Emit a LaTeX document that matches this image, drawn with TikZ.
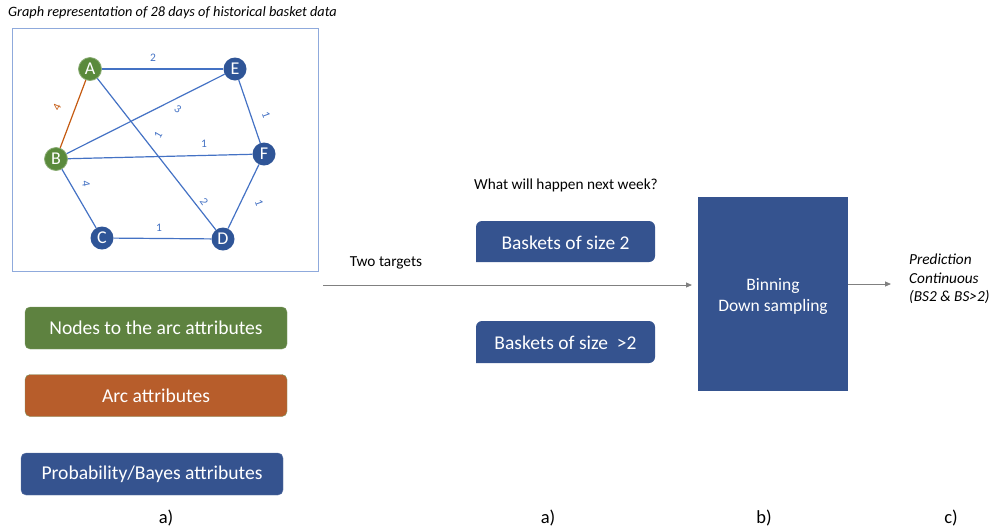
\documentclass[tikz,border=0pt]{standalone}
\usepackage{fontspec}
\setmainfont{Carlito}
\usetikzlibrary{arrows.meta}
\definecolor{gnode}{HTML}{5A8A3C}
\definecolor{bnode}{HTML}{2F5597}
\definecolor{edgeb}{HTML}{4472C4}
\definecolor{edgeo}{HTML}{C55A11}
\definecolor{bxgreen}{HTML}{5E8240}
\definecolor{bxorange}{HTML}{B75D2B}
\definecolor{bxblue}{HTML}{35538F}
\definecolor{frame}{HTML}{8FAADC}
\definecolor{arrowg}{HTML}{808080}
\tikzset{
  gv/.style={circle,fill=gnode,draw=gnode!70!white,line width=0.8pt,minimum size=23pt,inner sep=0pt,text=white,font=\fontsize{18}{18}\selectfont},
  bv/.style={circle,fill=bnode,minimum size=23pt,inner sep=0pt,text=white,font=\fontsize{18}{18}\selectfont},
  ed/.style={draw=edgeb,line width=1.2pt},
  elab/.style={text=edgeb,font=\fontsize{11.5}{11.5}\selectfont,inner sep=1pt},
  attbox/.style={rounded corners=5pt,minimum width=262pt,minimum height=42pt,text=white,font=\fontsize{19.6}{19.6}\selectfont,inner sep=0pt},
  flowarrow/.style={draw=arrowg,line width=0.9pt,-{Triangle[length=6pt,width=5pt]}},
  sublabel/.style={font=\fontsize{18.5}{18.5}\selectfont},
  smalltext/.style={font=\fontsize{15.3}{15.3}\selectfont}
}
\begin{document}
\begin{tikzpicture}[x=1pt,y=-1pt]
\useasboundingbox (0,0) rectangle (992,531);
% title
\node[anchor=west,font=\fontsize{14.3}{14.3}\selectfont\itshape,inner sep=0pt] (title) at (8,13) {Graph representation of 28 days of historical basket data};
% frame
\node[draw=frame,line width=0.9pt,minimum width=306pt,minimum height=243pt,inner sep=0pt] (frame) at (165,149.5) {};
% vertices
\node[gv] (A) at (90,69) {A};
\node[bv] (E) at (235,69) {E};
\node[gv] (B) at (56,159) {B};
\node[bv] (F) at (264,154) {F};
\node[bv] (C) at (102,238) {C};
\node[bv] (D) at (223,239) {D};
\draw[ed] (A) -- (E);
\draw[ed] (A) -- (D);
\draw[ed] (B) -- (E);
\draw[ed] (B) -- (F);
\draw[ed] (B) -- (C);
\draw[ed] (C) -- (D);
\draw[ed] (D) -- (F);
\draw[ed] (E) -- (F);
\draw[draw=edgeo,line width=1.2pt] (A) -- (B);
% edge labels
\node[elab] (lAE) at (153,58) {2};
\node[elab,text=edgeo,rotate=65] (lAB) at (57,107) {4};
\node[elab,rotate=-35] (lBE) at (178,109) {3};
\node[elab,rotate=60] (lAD1) at (158,135) {1};
\node[elab] (lBF) at (204,144) {1};
\node[elab,rotate=-70] (lEF) at (266,115) {1};
\node[elab,rotate=-80] (lBC) at (86,184) {4};
\node[elab,rotate=-55] (lAD2) at (204,202) {2};
\node[elab] (lCD) at (159,228) {1};
\node[elab,rotate=-70] (lDF) at (259,203) {1};
% attribute boxes
\node[attbox,fill=bxgreen,draw=bxgreen!80!white] (g1) at (156,328) {Nodes to the arc attributes};
\node[attbox,fill=bxorange,draw=bxgreen!80!white] (g2) at (156,395.5) {Arc attributes};
\node[attbox,fill=bxblue,draw=bxblue!80!white] (g3) at (152,474) {Probability/Bayes attributes};
\node[sublabel] (la1) at (166,518) {a)};
% middle
\node[smalltext] (q) at (566,185) {What will happen next week?};
\fill[bxblue,rounded corners=6pt] (476,262) -- (476,221) -- (655,221) -- (655,262) [sharp corners] -- cycle;
\node[text=white,font=\fontsize{19.5}{19.5}\selectfont] (b2) at (565.5,243) {Baskets of size 2};
\fill[bxblue,rounded corners=6pt] (476,363) -- (476,321) -- (655,321) -- (655,363) [sharp corners] -- cycle;
\node[text=white,font=\fontsize{19.5}{19.5}\selectfont] (b3) at (565.5,343) {Baskets of size\ \ >2};
\node[smalltext] (tt) at (386,263) {Two targets};
\coordinate (s1) at (323,285);
\node[fill=bxblue,minimum width=150pt,minimum height=194pt,inner sep=0pt] (bin) at (773,294) {};
\node[text=white,font=\fontsize{17.5}{21}\selectfont,align=center] (bintext) at (773,296) {Binning\\Down sampling};
\coordinate (t1) at (692,285);
\draw[flowarrow] (s1) -- (t1);
\coordinate (o1) at (891,284);
\draw[flowarrow] (bin.east |- o1) -- (o1);
\node[anchor=north west,align=left,font=\fontsize{15.3}{18.5}\selectfont\itshape,inner sep=0pt] (pred) at (909,254) {Prediction\\Continuous\\(BS2 \& BS>2)};
\node[sublabel] (la2) at (548,518) {a)};
\node[sublabel] (lb) at (764,518) {b)};
\node[sublabel] (lc) at (951,518) {c)};
\end{tikzpicture}
\end{document}
